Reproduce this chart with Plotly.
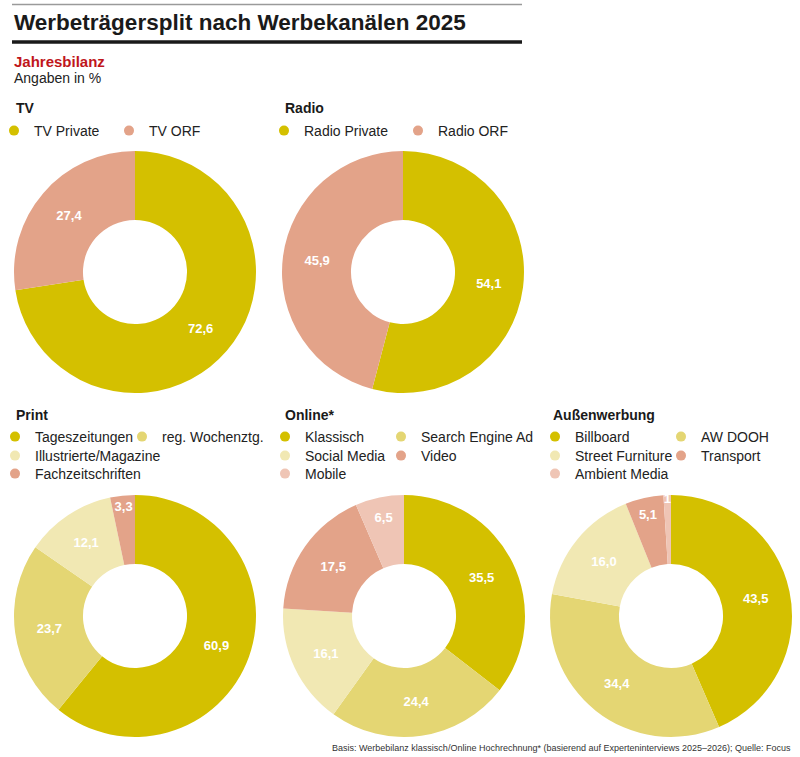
import plotly.graph_objects as go

# ---------------- data ----------------
tv_labels = ["TV Private", "TV ORF"]
tv_values = [72.6, 27.4]

radio_labels = ["Radio Private", "Radio ORF"]
radio_values = [54.1, 45.9]

print_labels = ["Tageszeitungen", "reg. Wochenztg.", "Illustrierte/Magazine", "Fachzeitschriften"]
print_values = [60.9, 23.7, 12.1, 3.3]

online_labels = ["Klassisch", "Search Engine Ad", "Social Media", "Video", "Mobile"]
online_values = [35.5, 24.4, 16.1, 17.5, 6.5]

aussen_labels = ["Billboard", "AW DOOH", "Street Furniture", "Transport", "Ambient Media"]
aussen_values = [43.5, 34.4, 16.0, 5.1, 1.0]

panel_titles = ["TV", "Radio", "Print", "Online*", "Außenwerbung"]

# ---------------- style ----------------
YEL = "#D4C000"
MYEL = "#E4D673"
PALE = "#F1E8B3"
SAL = "#E3A389"
PINK = "#EFC5B5"

OFF = 0                      # page body margin removed via post_script
W, H = 800 - OFF, 757 - OFF
FONT = "Liberation Sans, Arial, sans-serif"


def px(x):
    return (x - OFF) / W


def py(y):
    return 1 - (y - OFF) / H


panels = [
    dict(labels=tv_labels, values=tv_values, colors=[YEL, SAL], c=(135, 272), title=(14, 108),
         rows=[2], cols=[18, 133], ly=[131]),
    dict(labels=radio_labels, values=radio_values, colors=[YEL, SAL], c=(403, 272), title=(283, 108),
         rows=[2], cols=[288, 422], ly=[131]),
    dict(labels=print_labels, values=print_values, colors=[YEL, MYEL, PALE, SAL], c=(135, 616), title=(14, 415),
         rows=[2, 1, 1], cols=[19, 146], ly=[437, 456, 474]),
    dict(labels=online_labels, values=online_values, colors=[YEL, MYEL, PALE, SAL, PINK], c=(404, 616),
         title=(283, 415), rows=[2, 2, 1], cols=[289, 405], ly=[437, 456, 474]),
    dict(labels=aussen_labels, values=aussen_values, colors=[YEL, MYEL, PALE, SAL, PINK], c=(671, 616),
         title=(551, 415), rows=[2, 2, 1], cols=[559, 685], ly=[437, 456, 474]),
]
R = 121

fig = go.Figure()
layout_legends = {}
annotations = []
legend_idx = 0

for p, ttl in zip(panels, panel_titles):
    cx, cy = p["c"]
    templates = ["%{value:.0f}" if v < 2 else "%{value:.1f}" for v in p["values"]]
    fig.add_trace(go.Pie(
        labels=p["labels"], values=p["values"], sort=False, direction="clockwise", rotation=0,
        hole=0.43, marker=dict(colors=p["colors"], line=dict(width=0)),
        texttemplate=templates, textposition="inside", insidetextorientation="horizontal",
        textfont=dict(color="white", size=13, family=FONT, weight="bold"),
        showlegend=False, hoverinfo="label+value",
        domain=dict(x=[px(cx - R), px(cx + R)], y=[py(cy + R), py(cy - R)]),
    ))
    annotations.append(dict(text="<b>" + ttl + "</b>", x=px(p["title"][0]), y=py(p["title"][1]),
                            xref="paper", yref="paper", xanchor="left", yanchor="middle", showarrow=False,
                            font=dict(family=FONT, size=14, color="#1a1a1a")))
    i = 0
    for nrow, ry in zip(p["rows"], p["ly"]):
        for k in range(nrow):
            legend_idx += 1
            lname = "legend" if legend_idx == 1 else f"legend{legend_idx}"
            fig.add_trace(go.Scatter(
                x=[None], y=[None], mode="markers", name=p["labels"][i],
                marker=dict(size=10, color=p["colors"][i]), legend=lname, showlegend=True, hoverinfo="skip",
            ))
            layout_legends[lname] = dict(
                x=px(p["cols"][k] - 24), y=py(ry), xanchor="left", yanchor="middle",
                orientation="h", itemwidth=30,
                font=dict(family=FONT, size=14, color="#222"), bgcolor="rgba(0,0,0,0)", borderwidth=0,
                itemclick=False, itemdoubleclick=False,
            )
            i += 1

annotations += [
    dict(text="<b>Werbeträgersplit nach Werbekanälen 2025</b>", x=px(12), y=py(22), xref="paper", yref="paper",
         xanchor="left", yanchor="middle", showarrow=False, font=dict(family=FONT, size=22.5, color="#1a1a1a")),
    dict(text="<b>Jahresbilanz</b>", x=px(12), y=py(62), xref="paper", yref="paper",
         xanchor="left", yanchor="middle", showarrow=False, font=dict(family=FONT, size=15, color="#C0161B")),
    dict(text="Angaben in %", x=px(12), y=py(78), xref="paper", yref="paper",
         xanchor="left", yanchor="middle", showarrow=False, font=dict(family=FONT, size=14, color="#222")),
    dict(text="Basis: Werbebilanz klassisch/Online Hochrechnung* (basierend auf Experteninterviews 2025–2026); Quelle: Focus",
         x=px(793), y=py(748), xref="paper", yref="paper", xanchor="right", yanchor="middle", showarrow=False,
         font=dict(family=FONT, size=9, color="#333")),
]

shapes = [
    dict(type="line", xref="paper", yref="paper", x0=px(12), x1=px(522), y0=py(4.5), y1=py(4.5),
         line=dict(color="#9a9a9a", width=1.5)),
    dict(type="line", xref="paper", yref="paper", x0=px(12), x1=px(522), y0=py(42), y1=py(42),
         line=dict(color="#1a1a1a", width=3.5)),
]

fig.update_layout(
    width=W, height=H, margin=dict(l=0, r=0, t=0, b=0, autoexpand=False),
    paper_bgcolor="white", plot_bgcolor="white",
    separators=",.",
    uniformtext=dict(minsize=13, mode="show"),
    xaxis=dict(visible=False), yaxis=dict(visible=False),
    annotations=annotations, shapes=shapes,
    **layout_legends,
)

fig.write_html("out.html", config={"displayModeBar": False},
               post_script="document.body.style.margin='0px';")
